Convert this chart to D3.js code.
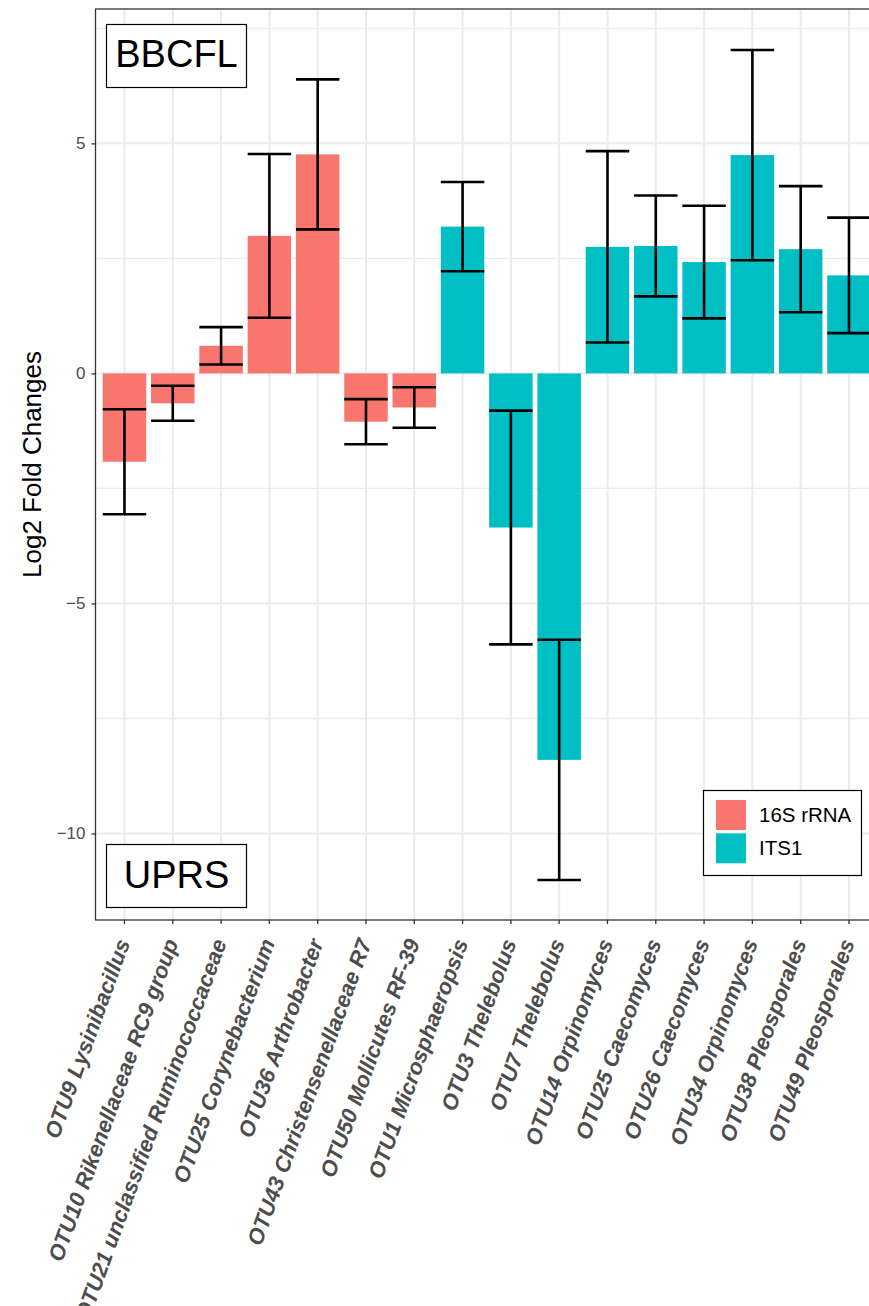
<!DOCTYPE html>
<html>
<head>
<meta charset="utf-8">
<script src="https://cdn.jsdelivr.net/npm/d3@7"></script>
<style>
  html, body { margin: 0; padding: 0; background: #ffffff; }
  svg { display: block; }
</style>
</head>
<body>
<svg id="chart" width="869" height="1306"></svg>
<script>
// ---- data ----
const categories = [
  "OTU9 Lysinibacillus", "OTU10 Rikenellaceae RC9 group", "OTU21 unclassified Ruminococcaceae",
  "OTU25 Corynebacterium", "OTU36 Arthrobacter", "OTU43 Christensenellaceae R7",
  "OTU50 Mollicutes RF-39", "OTU1 Microsphaeropsis", "OTU3 Thelebolus", "OTU7 Thelebolus",
  "OTU14 Orpinomyces", "OTU25 Caecomyces", "OTU26 Caecomyces", "OTU34 Orpinomyces",
  "OTU38 Pleosporales", "OTU49 Pleosporales"
];
const groups = ["16S rRNA","16S rRNA","16S rRNA","16S rRNA","16S rRNA","16S rRNA","16S rRNA",
  "ITS1","ITS1","ITS1","ITS1","ITS1","ITS1","ITS1","ITS1","ITS1"];
const log2FoldChange = [-1.92, -0.65, 0.60, 2.99, 4.76, -1.05, -0.74, 3.19, -3.35, -8.40,
  2.75, 2.77, 2.42, 4.745, 2.70, 2.13];
const lfcSE = [1.14, 0.38, 0.405, 1.78, 1.63, 0.49, 0.44, 0.97, 2.54, 2.61,
  2.08, 1.095, 1.225, 2.285, 1.37, 1.255];
const legendLabels = ["16S rRNA", "ITS1"];
const legendColors = ["#F8766D", "#00BFC4"];
const yTicks = [-10, -5, 0, 5];
const yMinorTicks = [-7.5, -2.5, 2.5, 7.5];
const yDomain = [-11.88, 7.92];
const yTitle = "Log2 Fold Changes";
const topLabel = "BBCFL";
const bottomLabel = "UPRS";

// ---- layout ----
const svg = d3.select("#chart");
const panel = { left: 95.5, top: 9, bottom: 920 };
const step = 48.3;
panel.right = panel.left + 16.2 * step;

const x = d3.scaleBand().domain(categories)
  .range([panel.left, panel.right]).paddingInner(0.1).paddingOuter(0.15);
const y = d3.scaleLinear().domain(yDomain).range([panel.bottom, panel.top]);
const color = d3.scaleOrdinal().domain(legendLabels).range(legendColors);

const data = categories.map((c, i) => ({ cat: c, grp: groups[i], v: log2FoldChange[i], se: lfcSE[i] }));

// grid
const g = svg.append("g");
g.selectAll(".minor").data(yMinorTicks).join("line")
  .attr("x1", panel.left).attr("x2", panel.right)
  .attr("y1", d => y(d)).attr("y2", d => y(d))
  .attr("stroke", "#EBEBEB").attr("stroke-width", 1.3);
g.selectAll(".majorY").data(yTicks).join("line")
  .attr("x1", panel.left).attr("x2", panel.right)
  .attr("y1", d => y(d)).attr("y2", d => y(d))
  .attr("stroke", "#EBEBEB").attr("stroke-width", 2);
g.selectAll(".majorX").data(categories).join("line")
  .attr("x1", d => x(d) + x.bandwidth() / 2).attr("x2", d => x(d) + x.bandwidth() / 2)
  .attr("y1", panel.top).attr("y2", panel.bottom)
  .attr("stroke", "#EBEBEB").attr("stroke-width", 2);

// bars
svg.append("g").selectAll("rect").data(data).join("rect")
  .attr("x", d => x(d.cat))
  .attr("width", x.bandwidth())
  .attr("y", d => y(Math.max(0, d.v)))
  .attr("height", d => Math.abs(y(d.v) - y(0)))
  .attr("fill", d => color(d.grp));

// error bars
const eb = svg.append("g").attr("stroke", "#000").attr("stroke-width", 2.6).attr("fill", "none");
data.forEach(d => {
  const cx = x(d.cat) + x.bandwidth() / 2;
  const x0 = x(d.cat), x1 = x(d.cat) + x.bandwidth();
  const lo = y(d.v - d.se), hi = y(d.v + d.se);
  eb.append("line").attr("x1", cx).attr("x2", cx).attr("y1", lo).attr("y2", hi);
  eb.append("line").attr("x1", x0).attr("x2", x1).attr("y1", lo).attr("y2", lo);
  eb.append("line").attr("x1", x0).attr("x2", x1).attr("y1", hi).attr("y2", hi);
});

// label boxes
function labelBox(text, bx, by, bw, bh, baseline) {
  svg.append("rect").attr("x", bx).attr("y", by).attr("width", bw).attr("height", bh)
    .attr("fill", "#fff").attr("stroke", "#000").attr("stroke-width", 1.2);
  svg.append("text").attr("x", bx + bw / 2).attr("y", baseline)
    .attr("text-anchor", "middle")
    .attr("font-family", "Liberation Sans, Arial, sans-serif")
    .attr("font-size", 38).attr("fill", "#000").text(text);
}
labelBox(topLabel, 106.5, 24.5, 140, 63, 66.5);
labelBox(bottomLabel, 106.5, 844.5, 140, 63, 887.5);

// legend
const lg = svg.append("g");
lg.append("rect").attr("x", 703.5).attr("y", 790.5).attr("width", 158).attr("height", 85)
  .attr("fill", "#fff").attr("stroke", "#000").attr("stroke-width", 1.2);
legendLabels.forEach((l, i) => {
  lg.append("rect").attr("x", 716).attr("y", 800 + i * 33.3).attr("width", 30).attr("height", 30)
    .attr("fill", color(l));
  lg.append("text").attr("x", 759).attr("y", 822.3 + i * 33)
    .attr("font-family", "Liberation Sans, Arial, sans-serif")
    .attr("font-size", 20.5).attr("fill", "#000").text(l);
});

// panel border
svg.append("rect").attr("x", panel.left).attr("y", panel.top)
  .attr("width", panel.right - panel.left).attr("height", panel.bottom - panel.top)
  .attr("fill", "none").attr("stroke", "#333333").attr("stroke-width", 1.3);

// y axis
const yAxis = svg.append("g").attr("transform", `translate(${panel.left},0)`)
  .call(d3.axisLeft(y).tickValues(yTicks).tickSize(4).tickPadding(6).tickFormat(d => d < 0 ? "\u2212" + Math.abs(d) : d));
yAxis.select(".domain").remove();
yAxis.selectAll(".tick line").attr("stroke", "#333333").attr("stroke-width", 1.3);
yAxis.selectAll(".tick text").attr("fill", "#4D4D4D")
  .attr("font-family", "Liberation Sans, Arial, sans-serif").attr("font-size", 17);

// x axis
const xAxis = svg.append("g").attr("transform", `translate(0,${panel.bottom})`)
  .call(d3.axisBottom(x).tickSize(4).tickSizeOuter(0));
xAxis.select(".domain").remove();
xAxis.selectAll(".tick line").attr("stroke", "#333333").attr("stroke-width", 1.3);
xAxis.selectAll(".tick text")
  .attr("fill", "#4D4D4D")
  .attr("font-family", "Liberation Sans, Arial, sans-serif")
  .attr("font-size", 22).attr("font-weight", "bold").attr("font-style", "italic")
  .attr("text-anchor", "end")
  .attr("transform", "translate(-9,17) rotate(-70)")
  .attr("x", 0).attr("y", 0).attr("dy", "0.72em");

// y title
svg.append("text")
  .attr("transform", `translate(41,${(panel.top + panel.bottom) / 2}) rotate(-90)`)
  .attr("text-anchor", "middle")
  .attr("font-family", "Liberation Sans, Arial, sans-serif")
  .attr("font-size", 26).attr("fill", "#000").text(yTitle);
</script>
</body>
</html>
